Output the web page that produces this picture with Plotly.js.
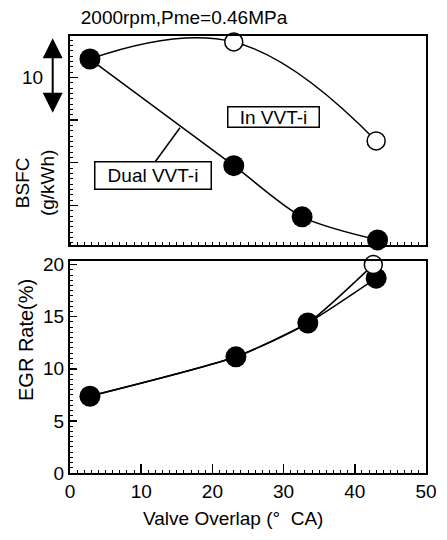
<!DOCTYPE html>
<html>
<head>
<meta charset="utf-8">
<script src="https://cdn.plot.ly/plotly-3.0.1.min.js"></script>
<style>html,body{margin:0;padding:0;background:#fff;}#chart{width:447px;height:540px;}</style>
</head>
<body>
<div id="chart"></div>
<script>
// ---- data ----
// Top panel: BSFC (relative, in axis tick units)
var overlapBsfcDual = [2.8, 23, 32.6, 43.2];
var bsfcDual        = [4.43, 1.93, 0.73, 0.19];
var overlapBsfcIn   = [2.8, 23, 43];
var bsfcIn          = [4.43, 4.83, 2.51];
// Bottom panel: EGR rate (%)
var overlapEgrDual  = [2.8, 23.3, 33.4, 43];
var egrDual         = [7.37, 11.15, 14.4, 18.7];
var overlapEgrIn    = [2.8, 23.3, 33.4, 42.6];
var egrIn           = [7.37, 11.15, 14.4, 20.0];
var xTicks = [0, 10, 20, 30, 40, 50];
var egrTicks = [0, 5, 10, 15, 20];
var bsfcTicks = [1, 2, 3, 4];

var FONT = "Liberation Sans, Arial, sans-serif";
var FS = 19;
var LW = 1.5;

var traces = [
  // top: In VVT-i line
  {x: overlapBsfcIn, y: bsfcIn, xaxis: 'x', yaxis: 'y', mode: 'lines',
   line: {color: '#000', width: LW, shape: 'spline', smoothing: 1.2}, hoverinfo: 'skip'},
  // top: Dual VVT-i line
  {x: overlapBsfcDual, y: bsfcDual, xaxis: 'x', yaxis: 'y', mode: 'lines',
   line: {color: '#000', width: LW, shape: 'spline', smoothing: 0.8}, hoverinfo: 'skip'},
  // top: In VVT-i open markers (skip shared start point)
  {x: overlapBsfcIn.slice(1), y: bsfcIn.slice(1), xaxis: 'x', yaxis: 'y', mode: 'markers', cliponaxis: false,
   marker: {symbol: 'circle', size: 18, color: '#fff', line: {color: '#000', width: 1.5}}},
  // top: Dual filled markers
  {x: overlapBsfcDual, y: bsfcDual, xaxis: 'x', yaxis: 'y', mode: 'markers', cliponaxis: false,
   marker: {symbol: 'circle', size: 21, color: '#000', line: {color: '#000', width: 0}}},

  // bottom: lines
  {x: overlapEgrDual, y: egrDual, xaxis: 'x2', yaxis: 'y2', mode: 'lines',
   line: {color: '#000', width: LW, shape: 'spline', smoothing: 0.6}, hoverinfo: 'skip'},
  {x: overlapEgrIn, y: egrIn, xaxis: 'x2', yaxis: 'y2', mode: 'lines',
   line: {color: '#000', width: LW, shape: 'spline', smoothing: 0.6}, hoverinfo: 'skip'},
  // bottom: filled markers
  {x: overlapEgrDual, y: egrDual, xaxis: 'x2', yaxis: 'y2', mode: 'markers', cliponaxis: false,
   marker: {symbol: 'circle', size: 21, color: '#000', line: {width: 0}}},
  // bottom: open marker (last In VVT-i point)
  {x: overlapEgrIn.slice(3), y: egrIn.slice(3), xaxis: 'x2', yaxis: 'y2', mode: 'markers', cliponaxis: false,
   marker: {symbol: 'circle', size: 18, color: '#fff', line: {color: '#000', width: 1.5}}}
];

function minorX() { return {ticks: 'inside', ticklen: 3, tickwidth: 1, tickcolor: '#000', dtick: 1, tick0: 0, showgrid: false}; }

var topDom = [0.5217, 1];
var botDom = [0, 0.484];

var layout = {
  width: 447, height: 540,
  margin: {l: 70, r: 21, t: 36, b: 67},
  paper_bgcolor: '#fff', plot_bgcolor: '#fff',
  showlegend: false,
  font: {family: FONT, size: FS, color: '#000'},
  title: {text: '2000rpm,Pme=0.46MPa', font: {family: FONT, size: FS, color: '#000'},
          x: 184 / 447, xanchor: 'center', xref: 'container', y: 1 - 17 / 540, yanchor: 'middle'},
  // top panel
  xaxis: {domain: [0, 1], anchor: 'y', range: [0, 50], showgrid: false, zeroline: false,
          showline: true, linewidth: 2, linecolor: '#000', mirror: true,
          ticks: '', showticklabels: false, tickvals: xTicks, minor: minorX()},
  yaxis: {domain: topDom, anchor: 'x', range: [0.07, 4.97], showgrid: false, zeroline: false,
          showline: true, linewidth: 2, linecolor: '#000', mirror: true,
          ticks: 'inside', ticklen: 8, tickwidth: 1.5, tickcolor: '#000',
          tickvals: bsfcTicks, showticklabels: false,
          minor: {ticks: 'inside', ticklen: 3, tickwidth: 1, tickcolor: '#000', dtick: 0.125, tick0: 0, showgrid: false}},
  // bottom panel
  xaxis2: {domain: [0, 1], anchor: 'y2', range: [0, 50], showgrid: false, zeroline: false,
           showline: true, linewidth: 2, linecolor: '#000', mirror: true,
           ticks: 'inside', ticklen: 9, tickwidth: 1.5, tickcolor: '#000',
           tickvals: xTicks, ticktext: xTicks.map(String),
           tickfont: {family: FONT, size: FS, color: '#000'}, minor: minorX()},
  yaxis2: {domain: botDom, anchor: 'x2', range: [0, 20.3], showgrid: false, zeroline: false,
           showline: true, linewidth: 2, linecolor: '#000', mirror: true,
           ticks: 'inside', ticklen: 7, tickwidth: 1.5, tickcolor: '#000',
           tickvals: egrTicks, ticktext: egrTicks.map(String),
           tickfont: {family: FONT, size: FS, color: '#000'},
           minor: {ticks: 'inside', ticklen: 3, tickwidth: 1, tickcolor: '#000', dtick: 0.5, tick0: 0, showgrid: false}},
  // mirrored minor ticks (top / right sides)
  xaxis3: {overlaying: 'x', anchor: 'y', side: 'top', range: [0, 50], showgrid: false, zeroline: false,
           ticks: '', showticklabels: false, showline: false, minor: minorX()},
  yaxis3: {overlaying: 'y', anchor: 'x', side: 'right', range: [0.07, 4.97], showgrid: false, zeroline: false,
           ticks: '', showticklabels: false, showline: false,
           minor: {ticks: 'inside', ticklen: 3, tickwidth: 1, tickcolor: '#000', dtick: 0.125, tick0: 0, showgrid: false}},
  xaxis4: {overlaying: 'x2', anchor: 'y2', side: 'top', range: [0, 50], showgrid: false, zeroline: false,
           ticks: '', showticklabels: false, showline: false, minor: minorX()},
  yaxis4: {overlaying: 'y2', anchor: 'x2', side: 'right', range: [0, 20.3], showgrid: false, zeroline: false,
           ticks: '', showticklabels: false, showline: false,
           minor: {ticks: 'inside', ticklen: 3, tickwidth: 1, tickcolor: '#000', dtick: 0.5, tick0: 0, showgrid: false}},
  shapes: [
    // leader line from "Dual VVT-i" box to the curve
    {type: 'line', xref: 'x', yref: 'y', x0: 11.94, y0: 2.016, x1: 15.45, y1: 2.82,
     line: {color: '#000', width: 1.5}}
  ],
  annotations: [
    {text: 'In VVT-i', xref: 'x', yref: 'y', x: 28.65, y: 3.08, showarrow: false,
     width: 90, height: 19, borderpad: 0, bordercolor: '#000', borderwidth: 1.5, bgcolor: '#fff',
     font: {family: FONT, size: FS, color: '#000'}},
    {text: 'Dual VVT-i', xref: 'x', yref: 'y', x: 11.6, y: 1.69, showarrow: false,
     width: 115, height: 26, borderpad: 0, bordercolor: '#000', borderwidth: 1.5, bgcolor: '#fff',
     font: {family: FONT, size: FS, color: '#000'}},
    {text: 'BSFC<br>(g/kWh)', xref: 'paper', yref: 'paper', x: -0.098, y: 0.6636, showarrow: false,
     textangle: -90, xanchor: 'center', yanchor: 'middle',
     font: {family: FONT, size: FS, color: '#000'}},
    {text: 'EGR Rate(%)', xref: 'paper', yref: 'paper', x: -0.1236, y: 0.3043, showarrow: false,
     textangle: -90, xanchor: 'center', yanchor: 'middle',
     font: {family: FONT, size: FS + 1, color: '#000'}},
    {text: '10', xref: 'paper', yref: 'paper', x: -0.104, y: 0.906, showarrow: false,
     xanchor: 'center', yanchor: 'middle', font: {family: FONT, size: FS, color: '#000'}},
    {text: '', xref: 'paper', yref: 'paper', x: -0.0486, y: 0.9947, showarrow: true,
     axref: 'pixel', ayref: 'pixel', ax: 0, ay: 76, arrowside: 'end+start',
     arrowhead: 2, startarrowhead: 2, arrowsize: 2, startarrowsize: 2, arrowwidth: 2, arrowcolor: '#000',
     standoff: 0, startstandoff: 0},
    {text: 'Valve Overlap (°\u00a0 CA)', xref: 'paper', yref: 'paper', x: (232.5 - 70) / 356, y: (473 - 518) / 437,
     showarrow: false, xanchor: 'center', yanchor: 'middle', font: {family: FONT, size: FS, color: '#000'}}
  ]
};

Plotly.newPlot('chart', traces, layout, {displayModeBar: false, staticPlot: true});
</script>
</body>
</html>
